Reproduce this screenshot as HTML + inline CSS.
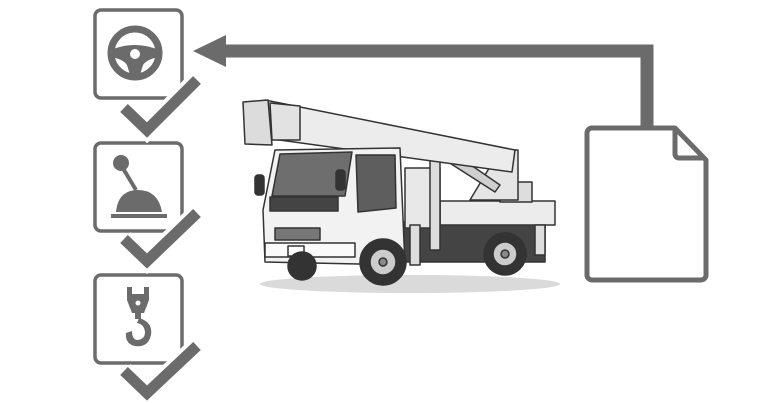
<!DOCTYPE html>
<html><head><style>html,body{margin:0;padding:0;background:#fff}svg{display:block}</style></head>
<body>
<svg width="768" height="403" viewBox="0 0 768 403" xmlns="http://www.w3.org/2000/svg">
<g fill="none" stroke="#6b6b6b">
<path d="M647 128 V51 H222" stroke-width="13"/>
</g>
<polygon points="193,51 226,35 226,67" fill="#6b6b6b"/>
<path d="M592 128 H675 L706 160 V275 a5 5 0 0 1 -5 5 H592 a5 5 0 0 1 -5 -5 V133 a5 5 0 0 1 5 -5 Z" fill="#fff" stroke="#6b6b6b" stroke-width="5" stroke-linejoin="round"/>
<path d="M675 129 V154 a4 4 0 0 0 4 4 H705" fill="none" stroke="#6b6b6b" stroke-width="5" stroke-linejoin="round"/>

<g fill="none" stroke="#6b6b6b" stroke-width="3.5">
<rect x="95" y="10" width="87" height="88" rx="6"/>
<rect x="95" y="143" width="87" height="88" rx="6"/>
<rect x="95" y="275" width="87" height="88" rx="6"/>
</g>
<g fill="none" stroke-linecap="butt" stroke-linejoin="miter">
<path d="M124 108 L147 130 L197 80" stroke="#fff" stroke-width="19"/>
<path d="M124 108 L147 130 L197 80" stroke="#6b6b6b" stroke-width="11"/>
<path d="M124 239 L147 261 L197 213" stroke="#fff" stroke-width="19"/>
<path d="M124 239 L147 261 L197 213" stroke="#6b6b6b" stroke-width="11"/>
<path d="M124 371 L147 393 L197 346" stroke="#fff" stroke-width="19"/>
<path d="M124 371 L147 393 L197 346" stroke="#6b6b6b" stroke-width="11"/>
</g>
<g fill="#6b6b6b">
<circle cx="135" cy="53" r="24" fill="none" stroke="#6b6b6b" stroke-width="7"/>
<path d="M111 50 Q135 40 159 50 L159 57 Q147 59 143 65 L139 78 H131 L127 65 Q123 59 111 57 Z"/>
<circle cx="135" cy="54" r="5" fill="#fff"/>
<circle cx="121" cy="163" r="8"/>
<path d="M124 170 L136 190" stroke="#6b6b6b" stroke-width="4"/>
<path d="M116 212 Q118 190 138 190 Q158 190 162 212 Z"/>
<rect x="111" y="214" width="56" height="4"/>
<path d="M127 287 h5 v7 h12 v-7 h5 v13 l-5 13 h-12 l-5 -13 Z"/>
<circle cx="138" cy="303" r="2.5" fill="#fff"/>
<rect x="135" y="313" width="6" height="6"/>
<path d="M139 318 Q153 322 151 335 Q148 348 135 346 Q125 344 126 333 L132 331 Q132 340 138 340 Q145 339 145 332 Q144 324 137 323 Z"/>
</g>

<ellipse cx="410" cy="284" rx="150" ry="9" fill="#dadada"/>
<g stroke="#333" stroke-width="1.5" stroke-linejoin="round">
<rect x="395" y="222" width="150" height="40" fill="#444"/>
<rect x="440" y="201" width="115" height="24" fill="#ececec"/>
<rect x="500" y="182" width="32" height="20" fill="#ddd"/>
<path d="M470 200 L500 150 L518 150 L518 200 Z" fill="#e5e5e5"/>
<path d="M445 160 L495 192 L500 185 L452 152 Z" fill="#cfcfcf"/>
<rect x="405" y="168" width="35" height="60" fill="#e8e8e8"/>
<rect x="430" y="150" width="10" height="100" fill="#ddd"/>
<path d="M265 100 L515 150 L512 172 L265 138 Z" fill="#ececec"/>
<path d="M243 102 L268 100 L272 145 L245 144 Z" fill="#dcdcdc"/>
<path d="M270 103 L300 106 L300 140 L272 140 Z" fill="#e2e2e2"/>
<path d="M275 150 L400 148 L405 265 L265 262 L263 210 Z" fill="#f2f2f2"/>
<path d="M280 154 L352 152 L345 196 L272 196 Z" fill="#6e6e6e"/>
<path d="M356 155 L395 155 L396 208 L358 212 Z" fill="#5e5e5e"/>
<rect x="270" y="197" width="68" height="14" fill="#444"/>
<rect x="275" y="228" width="45" height="12" fill="#777"/>
<rect x="265" y="243" width="90" height="14" fill="#fafafa"/>
<rect x="288" y="246" width="16" height="10" fill="#fff"/>
<rect x="255" y="175" width="9" height="20" rx="3" fill="#333"/>
<rect x="336" y="170" width="9" height="20" rx="3" fill="#333"/>
<circle cx="383" cy="262" r="23" fill="#333"/>
<circle cx="383" cy="262" r="13" fill="#ccc"/>
<circle cx="383" cy="262" r="4" fill="#888"/>
<circle cx="505" cy="254" r="21" fill="#333"/>
<circle cx="505" cy="254" r="12" fill="#ccc"/>
<circle cx="505" cy="254" r="4" fill="#888"/>
<circle cx="302" cy="266" r="14" fill="#333"/>
<rect x="535" y="225" width="10" height="30" fill="#ddd"/>
<rect x="410" y="225" width="10" height="40" fill="#ddd"/>
</g>
</svg>
</body></html>
